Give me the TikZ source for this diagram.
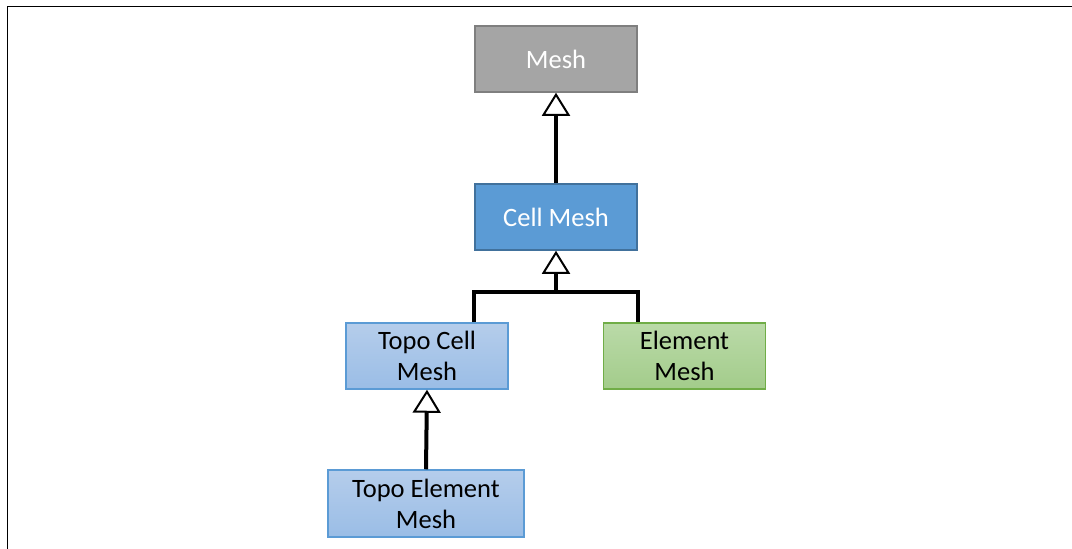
\documentclass[tikz,border=0pt]{standalone}
\usepackage{fontspec}
\setmainfont{Carlito}
\usetikzlibrary{arrows.meta}

\definecolor{meshfill}{HTML}{A5A5A5}
\definecolor{meshline}{HTML}{7F7F7F}
\definecolor{cellfill}{HTML}{5B9BD5}
\definecolor{cellline}{HTML}{41719C}
\definecolor{topotop}{HTML}{B5CDEB}
\definecolor{topobot}{HTML}{9ABDE6}
\definecolor{greentop}{HTML}{BADAA8}
\definecolor{greenbot}{HTML}{A3CC8B}
\definecolor{greenline}{HTML}{70AD47}

\tikzset{
  box/.style={draw, line width=1.5pt, minimum width=162pt, minimum height=66pt,
              inner sep=0pt, align=center, font=\fontsize{26.5}{31}\selectfont},
  darkbox/.style={box, fill=meshfill, draw=meshline, text=white},
  cellbox/.style={box, fill=cellfill, draw=cellline, text=white},
  topobox/.style={box, top color=topotop, bottom color=topobot, draw=cellfill, text=black},
  greenbox/.style={box, top color=greentop, bottom color=greenbot, draw=greenline, text=black},
  link/.style={line width=4pt, black},
  inherit/.style={link, -{Triangle[length=23pt, width=28pt, line width=2pt, fill=white]}},
}

\begin{document}
\begin{tikzpicture}[x=1pt, y=-1pt]
  \useasboundingbox (0,0) rectangle (1072,549);
  % outer frame (top and left edges)
  \draw[line width=1.5pt, black] (7.5,549) -- (7.5,6.5) -- (1072,6.5);

  \node[darkbox]  (mesh)  at (556,59)   {Mesh};
  \node[cellbox]  (cell)  at (556,217)  {Cell Mesh};
  \node[topobox]  (topo)  at (427,356)  {Topo Cell\\Mesh};
  \node[greenbox] (elem)  at (684.5,356) {Element\\Mesh};
  \node[topobox, minimum width=196pt, minimum height=67pt] (topoel) at (426,503.5) {Topo Element\\Mesh};

  \coordinate (fork) at (cell.south |- 0,292);

  \draw[inherit] (cell.north) -- (mesh.south);
  \draw[link] (cell.south west |- topo.north) |- (fork) -| (cell.south east |- elem.north);
  \draw[inherit] (fork) -- (cell.south);
  \draw[inherit] (topoel.north) -- (topo.south);
\end{tikzpicture}
\end{document}
